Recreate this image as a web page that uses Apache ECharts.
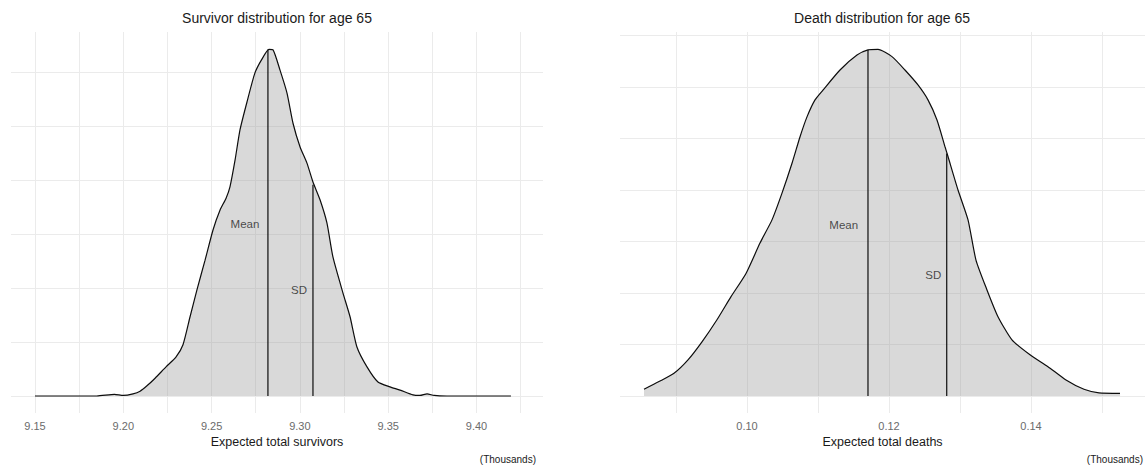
<!DOCTYPE html>
<html>
<head>
<meta charset="utf-8">
<script src="https://cdn.jsdelivr.net/npm/echarts@6/dist/echarts.min.js"></script>
<style>
  html, body { margin: 0; padding: 0; background: #fff; }
  #chart { width: 1145px; height: 466px; }
</style>
</head>
<body>
<div id="chart"></div>
<script>
// ---- Survivor panel data (x in thousands, y = density in gridline units) ----
const survX = [9.150, 9.185, 9.195, 9.200, 9.2055, 9.2095, 9.2134, 9.218, 9.2242, 9.2298, 9.2338, 9.2378, 9.2417, 9.2463, 9.2508, 9.2548, 9.2582, 9.2604, 9.2633, 9.2661, 9.270, 9.2745, 9.2785, 9.2825, 9.2848, 9.2887, 9.2927, 9.2961, 9.3001, 9.304, 9.3074, 9.3114, 9.3153, 9.3187, 9.3244, 9.3284, 9.3323, 9.338, 9.3442, 9.351, 9.3567, 9.364, 9.368, 9.372, 9.376, 9.3833, 9.4195];
const survY = [0, 0, 0.03, 0.01, 0.04, 0.09, 0.19, 0.33, 0.54, 0.72, 0.95, 1.47, 1.97, 2.52, 3.08, 3.45, 3.67, 3.88, 4.38, 4.94, 5.45, 5.99, 6.25, 6.43, 6.42, 6.05, 5.62, 5.06, 4.62, 4.32, 3.97, 3.64, 3.21, 2.58, 1.91, 1.47, 0.91, 0.54, 0.26, 0.17, 0.11, 0.02, 0.01, 0.04, 0.01, 0, 0];
const survMean = 9.2819, survMeanTop = 6.43;
const survSD = 9.3074, survSDTop = 3.92;
const survLabelX = [9.2689, 9.2995];
const survLabelY = [3.19, 1.97];
const survTicks = [9.15, 9.20, 9.25, 9.30, 9.35, 9.40];
const survGridX = [9.15, 9.175, 9.20, 9.225, 9.25, 9.275, 9.30, 9.325, 9.35, 9.375, 9.40, 9.425];
const survGridY = [0, 1, 2, 3, 4, 5, 6];

// ---- Death panel data ----
const deathX = [0.08549, 0.08761, 0.08972, 0.09169, 0.09366, 0.09577, 0.09775, 0.09986, 0.10183, 0.10352, 0.10493, 0.10634, 0.10746, 0.10845, 0.10958, 0.1107, 0.1131, 0.11549, 0.11704, 0.11845, 0.12042, 0.12225, 0.12408, 0.12549, 0.12676, 0.12789, 0.12831, 0.12972, 0.13113, 0.13225, 0.1338, 0.13535, 0.13732, 0.13986, 0.14239, 0.14493, 0.14746, 0.14958, 0.15254];
const deathY = [0.13, 0.28, 0.44, 0.70, 1.05, 1.48, 1.93, 2.38, 2.97, 3.42, 3.94, 4.52, 5.03, 5.42, 5.75, 5.94, 6.33, 6.62, 6.72, 6.73, 6.59, 6.33, 6.04, 5.75, 5.36, 4.84, 4.65, 4.00, 3.42, 2.64, 2.06, 1.54, 1.09, 0.80, 0.57, 0.31, 0.13, 0.06, 0.05];
const deathMean = 0.11704, deathMeanTop = 6.72;
const deathSD = 0.12813, deathSDTop = 4.71;
const deathLabelX = [0.11362, 0.12624];
const deathLabelY = [3.32, 2.35];
const deathTicks = [0.10, 0.12, 0.14];
const deathGridX = [0.09, 0.10, 0.11, 0.12, 0.13, 0.14, 0.15];
const deathGridY = [0, 1, 2, 3, 4, 5, 6, 7];

const statNames = ['Mean', 'SD'];
const titles = ['Survivor distribution for age 65', 'Death distribution for age 65'];
const axisTitles = ['Expected total survivors', 'Expected total deaths'];
const unitText = '(Thousands)';

const FONT = "'Liberation Sans', Arial, sans-serif";
const GRID = '#ebebeb';

function zip(a, b) { return a.map((v, i) => [v, b[i]]); }

function xAxisCfg(gi, min, max, ticks, gridVals, name) {
  return {
    type: 'value', gridIndex: gi, min: min, max: max,
    axisLine: { show: false },
    axisTick: { show: false, customValues: gridVals },
    splitLine: { show: true, lineStyle: { color: GRID, width: 1 } },
    minorSplitLine: { show: false },
    axisLabel: { customValues: ticks, formatter: v => v.toFixed(2), color: '#6b6b6b', fontSize: 11, fontFamily: FONT, margin: 7 },
    name: name, nameLocation: 'middle', nameGap: 20,
    nameTextStyle: { color: '#1a1a1a', fontSize: 12.5, fontFamily: FONT }
  };
}
function yAxisCfg(gi, min, max, gridVals) {
  return {
    type: 'value', gridIndex: gi, min: min, max: max,
    axisLine: { show: false },
    axisTick: { show: false, customValues: gridVals },
    axisLabel: { show: false },
    splitLine: { show: true, lineStyle: { color: GRID, width: 1 } }
  };
}
function curveSeries(gi, xs, ys) {
  return {
    type: 'line', xAxisIndex: gi, yAxisIndex: gi, data: zip(xs, ys),
    symbol: 'none', smooth: 0.2, z: 2,
    lineStyle: { color: '#0d0d0d', width: 1.2 },
    areaStyle: { color: 'rgba(150,150,150,0.36)', opacity: 1 }
  };
}
function vline(gi, x, top) {
  return {
    type: 'line', xAxisIndex: gi, yAxisIndex: gi, data: [[x, 0], [x, top]],
    symbol: 'none', z: 3, lineStyle: { color: '#0d0d0d', width: 1.2 }
  };
}
function labelSeries(gi, xs, ys) {
  return {
    type: 'scatter', xAxisIndex: gi, yAxisIndex: gi, symbolSize: 0, z: 4,
    data: xs.map((x, i) => ({ value: [x, ys[i]], name: statNames[i] })),
    label: { show: true, position: 'inside', formatter: p => p.name, color: '#1f1f1f', fontSize: 11.5, fontFamily: FONT }
  };
}

const chart = echarts.init(document.getElementById('chart'), null, { renderer: 'svg' });
chart.setOption({
  animation: false,
  backgroundColor: '#ffffff',
  grid: [
    { left: 11, top: 32, width: 532, height: 381 },
    { left: 620, top: 32, width: 525, height: 381 }
  ],
  xAxis: [
    xAxisCfg(0, 9.13641, 9.43766, survTicks, survGridX, axisTitles[0]),
    xAxisCfg(1, 0.082113, 0.156056, deathTicks, deathGridX, axisTitles[1])
  ],
  yAxis: [
    yAxisCfg(0, -0.3154, 6.753, survGridY),
    yAxisCfg(1, -0.330, 7.068, deathGridY)
  ],
  graphic: [
    { type: 'text', x: 277, y: 18, style: { text: titles[0], fill: '#1a1a1a', font: '14px ' + FONT, textAlign: 'center', textVerticalAlign: 'middle' } },
    { type: 'text', x: 882, y: 18, style: { text: titles[1], fill: '#1a1a1a', font: '14px ' + FONT, textAlign: 'center', textVerticalAlign: 'middle' } },
    { type: 'text', x: 536, y: 459, style: { text: unitText, fill: '#1a1a1a', font: '10px ' + FONT, textAlign: 'right', textVerticalAlign: 'middle' } },
    { type: 'text', x: 1143, y: 459, style: { text: unitText, fill: '#1a1a1a', font: '10px ' + FONT, textAlign: 'right', textVerticalAlign: 'middle' } }
  ],
  series: [
    curveSeries(0, survX, survY),
    vline(0, survMean, survMeanTop),
    vline(0, survSD, survSDTop),
    labelSeries(0, survLabelX, survLabelY),
    curveSeries(1, deathX, deathY),
    vline(1, deathMean, deathMeanTop),
    vline(1, deathSD, deathSDTop),
    labelSeries(1, deathLabelX, deathLabelY)
  ]
});
</script>
</body>
</html>
